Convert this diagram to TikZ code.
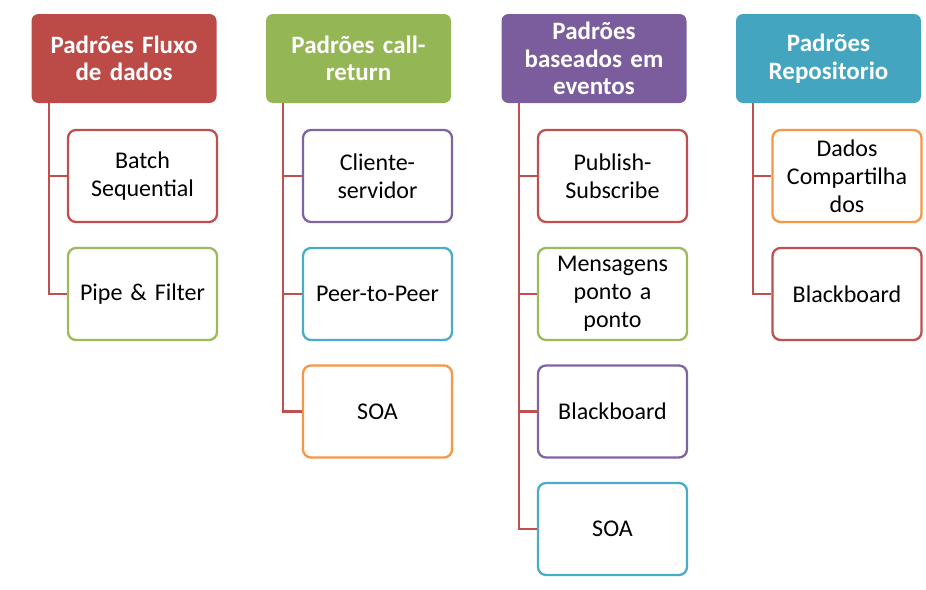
\documentclass[tikz,border=0pt]{standalone}
\usepackage{fontspec}
\setmainfont{Carlito}
\usetikzlibrary{calc}
\definecolor{ored}{HTML}{C0504D}
\definecolor{ogreen}{HTML}{9BBB59}
\definecolor{opurple}{HTML}{8064A2}
\definecolor{oaqua}{HTML}{4BACC6}
\definecolor{oorange}{HTML}{F79646}
\definecolor{hred}{HTML}{BC4A47}
\definecolor{hgreen}{HTML}{95B655}
\definecolor{hpurple}{HTML}{7B5D9E}
\definecolor{haqua}{HTML}{44A5C0}
\tikzset{
  head/.style={rectangle, rounded corners=7pt, fill=#1, draw=none,
    minimum width=185pt, minimum height=89pt, text width=178pt, align=center,
    text=white, font=\fontsize{25}{27.5}\selectfont\bfseries, inner sep=0pt},
  item/.style={rectangle, rounded corners=8pt, draw=#1, line width=2.3pt, fill=white,
    minimum width=149pt, minimum height=92pt, text width=145pt, align=center,
    font=\fontsize{24}{28}\selectfont, inner sep=0pt},
  conn/.style={draw=ored, line width=2.3pt},
}
\begin{document}
\begin{tikzpicture}[x=1pt,y=-1pt]
\useasboundingbox (0,0) rectangle (926,589);
% column 1
\node[head=hred] (h1) at (124,58.5) {Padrões Fluxo\\de dados};
\node[item=ored] (c11) at (142.5,176) {Batch\\Sequential};
\node[item=ogreen] (c12) at (142.5,294) {Pipe \& Filter};
% column 2
\node[head=hgreen] (h2) at (358.5,58.5) {Padrões call-\\return};
\node[item=opurple] (c21) at (377.5,176) {Cliente-\\servidor};
\node[item=oaqua] (c22) at (377.5,294) {Peer-to-Peer};
\node[item=oorange] (c23) at (377.5,411.5) {SOA};
% column 3
\node[head=hpurple] (h3) at (594,58.5) {Padrões\\baseados em\\eventos};
\node[item=ored] (c31) at (612.5,176) {Publish-\\Subscribe};
\node[item=ogreen] (c32) at (612.5,294) {Mensagens\\ponto a\\ponto};
\node[item=opurple] (c33) at (612.5,411.5) {Blackboard};
\node[item=oaqua] (c34) at (612.5,529) {SOA};
% column 4
\node[head=haqua] (h4) at (828.5,58.5) {Padrões\\Repositorio};
\node[item=oorange] (c41) at (847,176) {Dados\\Compartilha\\dos};
\node[item=ored] (c42) at (847,294) {Blackboard};
% connectors
\foreach \h/\c in {h1/c11,h1/c12,h2/c21,h2/c22,h2/c23,h3/c31,h3/c32,h3/c33,h3/c34,h4/c41,h4/c42}{
  \draw[conn] ($(\h.south west)+(17.5,0)$) |- (\c.west);
}
\end{tikzpicture}
\end{document}
